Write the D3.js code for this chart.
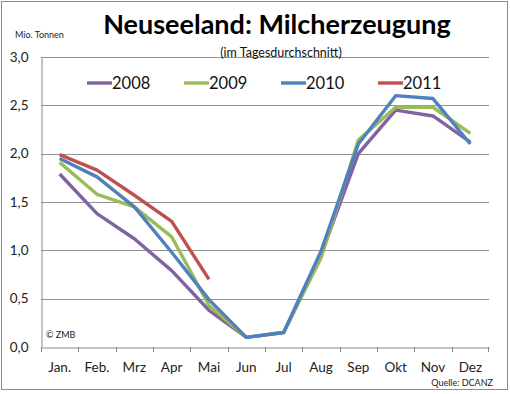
<!DOCTYPE html>
<html>
<head>
<meta charset="utf-8">
<script src="https://cdn.jsdelivr.net/npm/d3@7"></script>
<style>
  html, body { margin: 0; padding: 0; background: #fff; }
  svg { display: block; font-family: Lato, "Open Sans", sans-serif; }
</style>
</head>
<body>
<div id="chart"></div>
<script>
// Monate
const months = ["Jan.", "Feb.", "Mrz", "Apr", "Mai", "Jun", "Jul", "Aug", "Sep", "Okt", "Nov", "Dez"];

// Mio. Tonnen, im Tagesdurchschnitt
const y2008 = [1.79, 1.38, 1.12, 0.79, 0.38, 0.10, 0.15, 0.95, 2.00, 2.45, 2.39, 2.12];
const y2009 = [1.91, 1.58, 1.45, 1.14, 0.43, 0.10, 0.15, 0.92, 2.14, 2.48, 2.48, 2.21];
const y2010 = [1.95, 1.76, 1.45, 0.98, 0.49, 0.10, 0.15, 0.99, 2.10, 2.60, 2.57, 2.10];
const y2011 = [1.99, 1.83, 1.57, 1.30, 0.70];

const yTicks = [0, 0.5, 1.0, 1.5, 2.0, 2.5, 3.0];

const series = [
    { name: "2008", values: y2008, color: "#8064A2" },
    { name: "2009", values: y2009, color: "#9BBB59" },
    { name: "2010", values: y2010, color: "#4F81BD" },
    { name: "2011", values: y2011, color: "#C0504D" }
];

const width = 510, height = 394;
const plot = { left: 41, right: 489, top: 57, bottom: 347 };

const svg = d3.select("#chart")
    .append("svg")
    .attr("width", width)
    .attr("height", height);

// Rahmen
svg.append("rect")
    .attr("x", 1.5).attr("y", 1.5)
    .attr("width", 506).attr("height", 388)
    .attr("fill", "#fff")
    .attr("stroke", "#8c8c8c");

const x = d3.scaleBand()
    .domain(months)
    .range([plot.left, plot.right]);

const y = d3.scaleLinear()
    .domain([0, 3])
    .range([plot.bottom, plot.top]);

const fmt = d3.format(".1f");

// Gitterlinien
svg.append("g")
    .selectAll("line")
    .data(yTicks.filter(d => d > 0))
    .join("line")
    .attr("x1", plot.left).attr("x2", plot.right)
    .attr("y1", d => Math.round(y(d)) + 0.5)
    .attr("y2", d => Math.round(y(d)) + 0.5)
    .attr("stroke", "#939393")
    .attr("stroke-width", 1);

// y-Achse
const yAxis = svg.append("g")
    .attr("transform", `translate(${plot.left + 0.5},0)`)
    .call(d3.axisLeft(y).tickValues(yTicks).tickSize(0).tickPadding(13)
        .tickFormat(d => fmt(d).replace(".", ",")));
yAxis.select(".domain").attr("stroke", "#8a8a8a");
yAxis.selectAll("text")
    .attr("font-size", 13.5)
    .attr("fill", "#222")
    .attr("font-family", "Lato, sans-serif");

// x-Achse
const xAxis = svg.append("g")
    .attr("transform", `translate(0,${plot.bottom + 0.5})`)
    .call(d3.axisBottom(x).tickSize(0).tickPadding(15));
xAxis.select(".domain").attr("stroke", "#8a8a8a");
xAxis.selectAll("text")
    .attr("font-size", 13.5)
    .attr("fill", "#222")
    .attr("font-family", "Lato, sans-serif");

// Teilstriche zwischen Kategorien
svg.append("g")
    .selectAll("line")
    .data(months)
    .join("line")
    .attr("x1", d => Math.round(x(d)) + 0.5)
    .attr("x2", d => Math.round(x(d)) + 0.5)
    .attr("y1", plot.bottom)
    .attr("y2", plot.bottom + 5)
    .attr("stroke", "#8a8a8a");
svg.append("line")
    .attr("x1", plot.right - 0.5).attr("x2", plot.right - 0.5)
    .attr("y1", plot.bottom).attr("y2", plot.bottom + 5)
    .attr("stroke", "#8a8a8a");

// Linien
const line = d3.line()
    .x((d, i) => x(months[i]) + x.bandwidth() / 2)
    .y(d => y(d));

svg.append("g")
    .selectAll("path")
    .data(series)
    .join("path")
    .attr("fill", "none")
    .attr("stroke", d => d.color)
    .attr("stroke-width", 3.4)
    .attr("stroke-linejoin", "round")
    .attr("d", d => line(d.values));

// Legende
const legend = svg.append("g")
    .selectAll("g")
    .data(series)
    .join("g")
    .attr("transform", (d, i) => `translate(${87 + i * 97},83)`);
legend.append("line")
    .attr("x1", 0).attr("x2", 25)
    .attr("stroke", d => d.color)
    .attr("stroke-width", 3.4);
legend.append("text")
    .attr("x", 25)
    .attr("y", 6)
    .attr("font-size", 16.5)
    .attr("fill", "#111")
    .text(d => d.name);

// Titel
svg.append("text")
    .attr("x", 277).attr("y", 34)
    .attr("text-anchor", "middle")
    .attr("font-size", 27)
    .attr("font-weight", "bold")
    .attr("fill", "#000")
    .text("Neuseeland: Milcherzeugung");

svg.append("text")
    .attr("x", 281).attr("y", 57)
    .attr("text-anchor", "middle")
    .attr("font-size", 12.5)
    .attr("fill", "#111")
    .text("(im Tagesdurchschnitt)");

svg.append("text")
    .attr("x", 15).attr("y", 38)
    .attr("font-size", 9)
    .attr("fill", "#222")
    .text("Mio. Tonnen");

svg.append("text")
    .attr("x", 46).attr("y", 338)
    .attr("font-size", 9)
    .attr("fill", "#222")
    .text("© ZMB");

svg.append("text")
    .attr("x", 493).attr("y", 386)
    .attr("text-anchor", "end")
    .attr("font-size", 9)
    .attr("fill", "#222")
    .text("Quelle: DCANZ");
</script>
</body>
</html>
